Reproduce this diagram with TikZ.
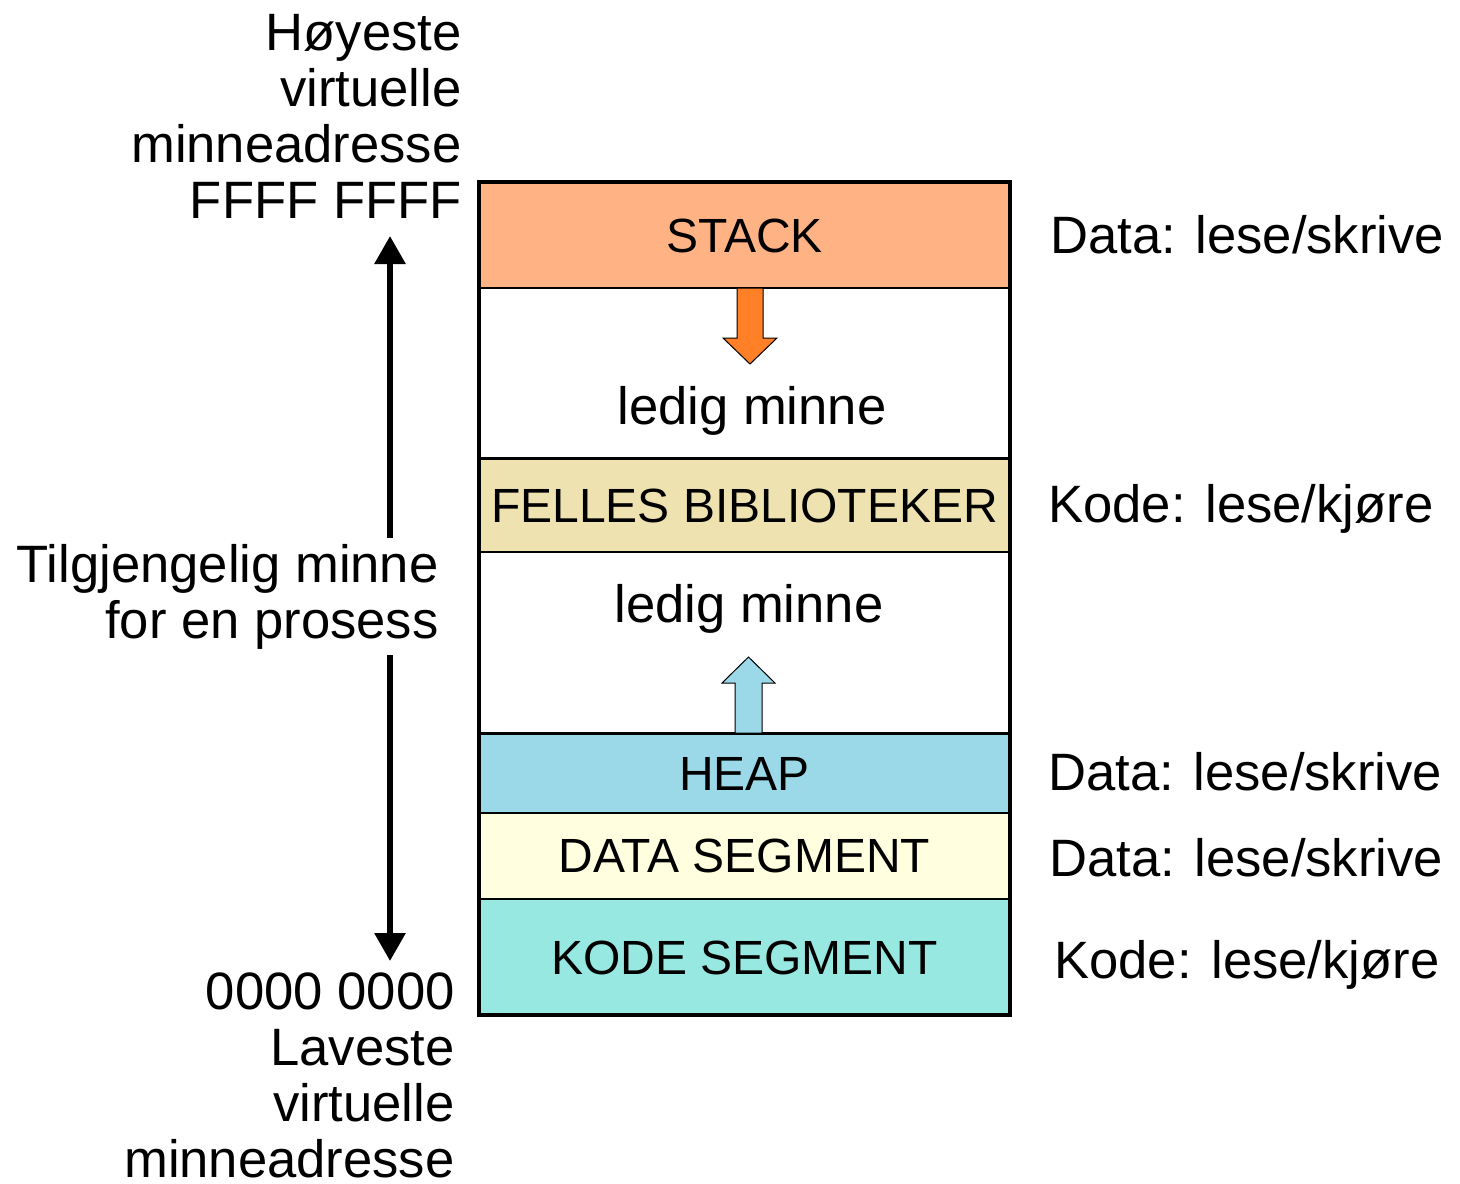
\documentclass[tikz,border=0pt]{standalone}
\usepackage{fontspec}
\setmainfont{Liberation Sans}
\usetikzlibrary{arrows.meta}
\definecolor{stackc}{HTML}{FFB385}
\definecolor{fellesc}{HTML}{EEE2B0}
\definecolor{heapc}{HTML}{9BD9E9}
\definecolor{datac}{HTML}{FFFFE0}
\definecolor{kodec}{HTML}{98E8E2}
\definecolor{orangec}{HTML}{FF8027}
\tikzset{
  seg/.style={draw=black, line width=0.6pt, rectangle, inner sep=0pt, minimum width=265.5pt, font=\fontsize{24}{26}\selectfont},
  big/.style={inner sep=0pt, font=\fontsize{26.3}{28}\selectfont},
  blockarrow/.style={draw=black, line width=0.5pt},
  dbl/.style={line width=3pt, -{Triangle[width=15pt,length=14pt]}}
}
\begin{document}
\begin{tikzpicture}[x=0.5pt,y=-0.5pt]
\useasboundingbox (0,0) rectangle (1460,1183);
% segments
\node[seg, fill=stackc, minimum height=53pt] (stack) at (744.5,236) {STACK};
\node[seg, fill=white, minimum height=85pt] (free1) at (744.5,373) {};
\node[seg, fill=fellesc, minimum height=47pt] (felles) at (744.5,506) {FELLES BIBLIOTEKER};
\node[seg, fill=white, minimum height=90.5pt] (free2) at (744.5,642.5) {};
\node[seg, fill=heapc, minimum height=39.5pt] (heap) at (744.5,773.5) {HEAP};
\node[seg, fill=datac, minimum height=43pt] (data) at (744.5,856) {DATA SEGMENT};
\node[seg, fill=kodec, minimum height=58.5pt] (kode) at (744.5,957.5) {KODE SEGMENT};
\draw[line width=1.6pt] (744.5-265.5,182) rectangle (744.5+265.5,1015);
% free memory labels
\node[big, anchor=base] (ledig1) at (752,424) {ledig minne};
\node[big, anchor=base] (ledig2) at (749,622) {ledig minne};
% block arrows
\draw[blockarrow, fill=orangec] (737,288) -- (763,288) -- (763,338) -- (777,338) -- (750,364) -- (723,338) -- (737,338) -- cycle;
\draw[blockarrow, fill=heapc] (735,733) -- (762,733) -- (762,683) -- (775,683) -- (748.5,657) -- (722,683) -- (735,683) -- cycle;
% right labels
\node[big, anchor=base west] (r1) at (1050,253) {Data: lese/skrive};
\node[big, anchor=base west] (r2) at (1048,522) {Kode: lese/kjøre};
\node[big, anchor=base west] (r3) at (1048,790) {Data: lese/skrive};
\node[big, anchor=base west] (r4) at (1049,876) {Data: lese/skrive};
\node[big, anchor=base west] (r5) at (1054,978) {Kode: lese/kjøre};
% left labels (base anchor = last line baseline)
\node[big, anchor=base east, align=right] (hi) at (462,218) {Høyeste\\virtuelle\\minneadresse\\FFFF FFFF};
\node[big, anchor=base east, align=right] (lo) at (455,1177) {0000 0000\\Laveste\\virtuelle\\minneadresse};
\node[big, anchor=base east, align=right] (avail) at (439,638) {Tilgjengelig minne\\for en prosess};
% double arrow
\coordinate (upstart) at (390,538);
\coordinate (uptip) at (390,236);
\coordinate (downstart) at (390,655);
\coordinate (downtip) at (390,961);
\draw[dbl] (upstart) -- (uptip);
\draw[dbl] (downstart) -- (downtip);
\end{tikzpicture}
\end{document}
